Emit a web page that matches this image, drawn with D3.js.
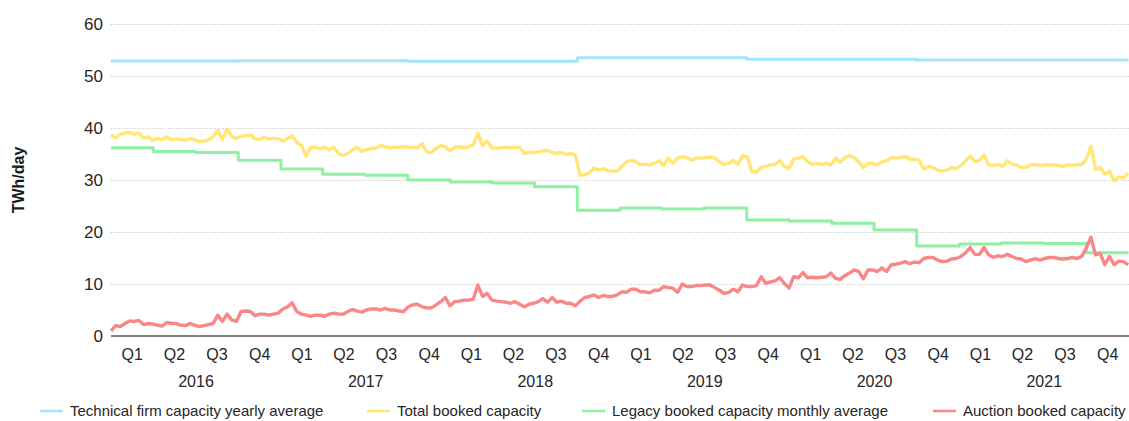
<!DOCTYPE html>
<html>
<head>
<meta charset="utf-8">
<script src="https://cdn.jsdelivr.net/npm/d3@7"></script>
<style>
  html, body { margin: 0; padding: 0; background: #fff; }
  svg { display: block; font-family: "Liberation Sans", Arial, sans-serif; }
</style>
</head>
<body>
<svg id="chart" width="1129" height="421"></svg>
<script>
// ---- Data (TWh/day) ----
// Daily series sampled every 10 days from 1 Jan 2016
const seriesStart = "2016-01-01";
const sampleStepDays = 10;

const totalBooked = [
  38.7, 38.1, 38.8, 39.0, 39.2, 38.8, 39.0, 38.1, 38.3, 37.6,
  38.0, 37.7, 38.3, 37.7, 37.9, 37.8, 37.6, 38.0, 37.7, 37.4,
  37.5, 37.7, 38.3, 39.5, 37.8, 39.8, 38.4, 38.0, 38.4, 38.5,
  38.7, 37.9, 37.8, 38.2, 37.9, 38.0, 37.9, 37.5, 38.0, 38.5,
  37.2, 36.7, 34.6, 36.3, 36.3, 36.0, 36.3, 35.8, 36.3, 35.1,
  34.7, 35.1, 35.8, 36.3, 35.5, 35.8, 36.1, 36.1, 36.6, 36.4,
  36.2, 36.3, 36.3, 36.4, 36.3, 36.3, 36.2, 37.0, 35.4, 35.3,
  36.1, 36.6, 36.4, 35.6, 36.3, 36.4, 36.2, 36.4, 36.7, 39.0,
  36.6, 37.5, 36.2, 36.1, 36.2, 36.3, 36.2, 36.3, 36.3, 35.1,
  35.3, 35.3, 35.4, 35.6, 35.7, 35.3, 35.1, 35.3, 34.9, 35.1,
  34.8, 30.9, 31.0, 31.4, 32.3, 31.9, 32.2, 31.8, 31.7, 31.7,
  32.6, 33.5, 33.8, 33.5, 33.0, 33.0, 32.9, 33.2, 33.7, 32.8,
  34.2, 33.2, 34.2, 34.5, 34.3, 33.8, 34.2, 34.2, 34.3, 34.4,
  34.2, 33.5, 33.0, 33.2, 33.8, 33.0, 34.7, 34.5, 31.6, 31.5,
  32.4, 32.6, 32.9, 33.0, 33.7, 32.6, 32.2, 34.0, 34.2, 34.5,
  33.5, 33.0, 33.2, 33.0, 33.2, 32.9, 34.2, 33.4, 34.3, 34.7,
  34.3, 33.5, 32.4, 33.2, 33.2, 32.9, 33.5, 33.7, 34.3, 34.2,
  34.3, 34.5, 34.0, 34.0, 33.8, 32.1, 32.6, 32.4, 31.9, 31.7,
  31.9, 32.4, 32.2, 32.8, 33.7, 34.6, 33.5, 33.8, 34.8, 32.9,
  32.8, 33.0, 32.6, 33.7, 33.0, 32.9, 32.4, 32.4, 32.9, 33.0,
  32.8, 32.9, 32.9, 32.9, 32.8, 32.6, 32.9, 32.8, 33.0, 32.9,
  34.0, 36.5, 32.0, 32.4, 31.1, 31.7, 29.8, 30.6, 30.4, 31.3
];

const auctionBooked = [
  1.0, 2.0, 1.8, 2.4, 2.9, 2.8, 3.0, 2.2, 2.4, 2.3,
  2.1, 1.9, 2.6, 2.4, 2.4, 2.1, 2.0, 2.4, 2.1, 1.8,
  2.0, 2.2, 2.4, 4.0, 2.8, 4.2, 3.1, 2.8, 4.7, 4.8,
  4.7, 3.9, 4.2, 4.2, 4.0, 4.2, 4.4, 5.2, 5.6, 6.4,
  4.7, 4.2, 4.0, 3.8, 4.0, 4.0, 3.8, 4.2, 4.4, 4.2,
  4.2, 4.7, 5.1, 4.8, 4.6, 5.0, 5.2, 5.2, 5.0, 5.3,
  5.0, 5.0, 4.8, 4.7, 5.6, 6.0, 6.1, 5.6, 5.4, 5.4,
  6.0, 6.6, 7.4, 5.8, 6.6, 6.7, 6.9, 6.9, 7.1, 9.8,
  7.6, 8.2, 6.9, 6.7, 6.6, 6.5, 6.3, 6.6, 6.1, 5.6,
  6.1, 6.3, 6.6, 7.2, 6.5, 7.4, 6.5, 6.7, 6.3, 6.3,
  5.8, 6.7, 7.4, 7.6, 7.9, 7.4, 7.8, 7.6, 7.6, 7.9,
  8.5, 8.4, 9.0, 9.0, 8.5, 8.5, 8.3, 8.8, 8.8, 9.5,
  9.3, 9.2, 8.4, 10.0, 9.5, 9.5, 9.7, 9.7, 9.8, 9.8,
  9.3, 8.8, 8.2, 8.4, 9.0, 8.5, 9.8, 9.5, 9.5, 9.7,
  11.4, 10.1, 10.4, 10.6, 11.2, 10.1, 9.2, 11.4, 11.2, 12.2,
  11.2, 11.3, 11.2, 11.3, 11.4, 12.1, 11.1, 10.9, 11.6, 12.1,
  12.7, 12.4, 11.0, 12.7, 12.7, 12.4, 13.1, 12.4, 13.7, 13.8,
  14.0, 14.3, 13.9, 14.2, 14.1, 14.9, 15.1, 15.1, 14.6, 14.3,
  14.4, 14.8, 14.9, 15.3, 16.0, 17.0, 15.7, 15.7, 17.0, 15.6,
  15.1, 15.4, 15.3, 15.7, 15.3, 14.9, 14.8, 14.3, 14.6, 14.9,
  14.6, 14.9, 15.1, 15.1, 14.9, 14.8, 14.9, 15.1, 14.9, 15.3,
  16.9, 19.0, 15.6, 15.9, 13.7, 15.3, 13.7, 14.4, 14.3, 13.7
];

// Legacy booked capacity, one level per quarter (Q1 2016 .. Q4 2021)
const legacyBooked = [
  36.2, 35.5, 35.3, 33.8,
  32.1, 31.1, 30.9, 30.0,
  29.6, 29.4, 28.7, 24.2,
  24.6, 24.4, 24.6, 22.3,
  22.1, 21.7, 20.4, 17.3,
  17.7, 17.9, 17.8, 16.0
];

// Technical firm capacity, yearly average (gas years starting 1 October)
const technicalDates = ["2016-01-01", "2016-10-01", "2017-10-01", "2018-10-01", "2019-10-01", "2020-10-01"];
const technicalFirm = [52.9, 52.95, 52.85, 53.5, 53.2, 53.1];

const periodStart = "2016-01-01";
const periodEnd = "2022-01-01";
const years = ["2016", "2017", "2018", "2019", "2020", "2021"];
const quarterLabels = ["Q1", "Q2", "Q3", "Q4"];
const yTicks = [0, 10, 20, 30, 40, 50, 60];
const yTitle = "TWh/day";

const seriesNames = [
  "Technical firm capacity yearly average",
  "Total booked capacity",
  "Legacy booked capacity monthly average",
  "Auction booked capacity"
];
const seriesColors = ["#a2e4f8", "#ffe677", "#8ef0a1", "#f98787"];

// ---- Build ----
const parse = d3.utcParse("%Y-%m-%d");
const t0 = parse(seriesStart);
const dayMs = 864e5;
const sampled = vals => vals.map((v, i) => ({ date: new Date(+t0 + i * sampleStepDays * dayMs), value: v }));

const totalData = sampled(totalBooked);
const auctionData = sampled(auctionBooked);

const dStart = parse(periodStart), dEnd = parse(periodEnd);
const lastDay = new Date(+dEnd - dayMs);

const quarterStarts = d3.utcMonth.every(3).range(dStart, dEnd);
const legacyData = legacyBooked.map((v, i) => ({ date: quarterStarts[i], value: v }));
legacyData.push({ date: lastDay, value: legacyBooked[legacyBooked.length - 1] });

const techData = technicalFirm.map((v, i) => ({ date: parse(technicalDates[i]), value: v }));
techData.push({ date: lastDay, value: technicalFirm[technicalFirm.length - 1] });

const svg = d3.select("#chart");
const plot = { left: 111, right: 1129, top: 24, bottom: 336 };

const x = d3.scaleUtc().domain([dStart, dEnd]).range([plot.left, plot.right]);
const y = d3.scaleLinear().domain([0, 60]).range([plot.bottom, plot.top]);

// Gridlines
svg.append("g")
  .selectAll("line")
  .data(yTicks.filter(v => v > 0))
  .join("line")
  .attr("x1", plot.left).attr("x2", plot.right)
  .attr("y1", d => Math.round(y(d)) + 0.5).attr("y2", d => Math.round(y(d)) + 0.5)
  .attr("stroke", "#c4c4c4")
  .attr("stroke-width", 1)
  .attr("stroke-dasharray", "1,1.6");

// Y tick labels
svg.append("g")
  .selectAll("text")
  .data(yTicks)
  .join("text")
  .attr("x", 103)
  .attr("y", d => y(d))
  .attr("dy", "0.36em")
  .attr("text-anchor", "end")
  .attr("font-size", 17)
  .attr("fill", "#262626")
  .text(d => d);

// Y axis title
svg.append("text")
  .attr("transform", `translate(24,${(plot.top + plot.bottom) / 2}) rotate(-90)`)
  .attr("text-anchor", "middle")
  .attr("font-size", 16)
  .attr("font-weight", "bold")
  .attr("fill", "#1a1a1a")
  .text(yTitle);

// Series lines
const line = d3.line().x(d => x(d.date)).y(d => y(d.value));
const stepLine = d3.line().x(d => x(d.date)).y(d => y(d.value)).curve(d3.curveStepAfter);

const drawn = [
  { data: techData, gen: stepLine, color: seriesColors[0], width: 3 },
  { data: totalData, gen: line, color: seriesColors[1], width: 3.4 },
  { data: legacyData, gen: stepLine, color: seriesColors[2], width: 3 },
  { data: auctionData, gen: line, color: seriesColors[3], width: 3.4 }
];
svg.append("g")
  .selectAll("path")
  .data(drawn)
  .join("path")
  .attr("d", d => d.gen(d.data))
  .attr("fill", "none")
  .attr("stroke", d => d.color)
  .attr("stroke-width", d => d.width)
  .attr("stroke-linejoin", "round");

// Zero baseline
svg.append("line")
  .attr("x1", plot.left).attr("x2", plot.right)
  .attr("y1", y(0)).attr("y2", y(0))
  .attr("stroke", "#555")
  .attr("stroke-width", 1.5);

// X axis: quarter labels and year labels
const quarterMid = quarterStarts.map((q, i) => {
  const next = i + 1 < quarterStarts.length ? quarterStarts[i + 1] : dEnd;
  return { mid: new Date((+q + +next) / 2), label: quarterLabels[i % 4] };
});
svg.append("g")
  .selectAll("text")
  .data(quarterMid)
  .join("text")
  .attr("x", d => x(d.mid))
  .attr("y", 360)
  .attr("text-anchor", "middle")
  .attr("font-size", 16)
  .attr("fill", "#262626")
  .text(d => d.label);

svg.append("g")
  .selectAll("text")
  .data(years)
  .join("text")
  .attr("x", d => x(new Date((+parse(d + "-01-01") + +parse((+d + 1) + "-01-01")) / 2)))
  .attr("y", 387)
  .attr("text-anchor", "middle")
  .attr("font-size", 16)
  .attr("fill", "#262626")
  .text(d => d);

// Legend
const legendX = [40, 367, 582, 933];
const legend = svg.append("g")
  .selectAll("g")
  .data(seriesNames)
  .join("g")
  .attr("transform", (d, i) => `translate(${legendX[i]},411)`);
legend.append("line")
  .attr("x1", 0).attr("x2", 23)
  .attr("stroke", (d, i) => seriesColors[i])
  .attr("stroke-width", 2.5);
legend.append("text")
  .attr("x", 30)
  .attr("dy", "0.36em")
  .attr("font-size", 15)
  .attr("fill", "#262626")
  .text(d => d);
</script>
</body>
</html>
